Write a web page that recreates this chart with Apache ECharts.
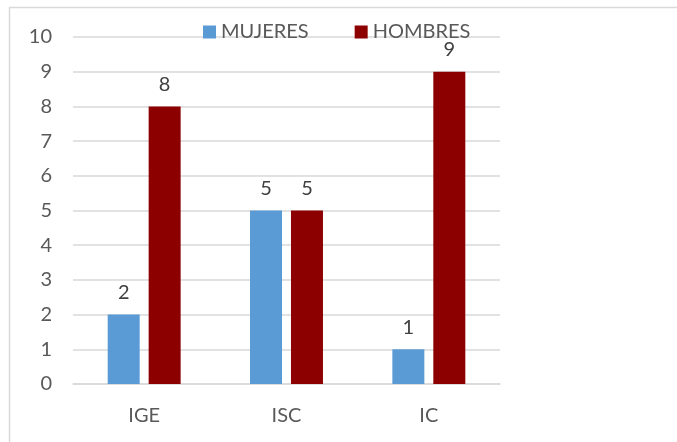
<!DOCTYPE html>
<html>
<head>
<meta charset="utf-8">
<script src="https://cdn.jsdelivr.net/npm/echarts@6/dist/echarts.min.js"></script>
<style>
  html,body{margin:0;padding:0;background:#fff;}
  #main{width:677px;height:442px;}
</style>
</head>
<body>
<div id="main"></div>
<script>
const categories = ['IGE', 'ISC', 'IC'];
const mujeres = [2, 5, 1];
const hombres = [8, 5, 9];
const yTicks = [0, 10, 1]; // min, max, interval

const chart = echarts.init(document.getElementById('main'));
const font = 'Lato, "Open Sans", sans-serif';
let option = {
  animation: false,
  textStyle: { fontFamily: font },
  graphic: [{
    type: 'rect',
    shape: { x: 9.5, y: 7.5, width: 720, height: 500 },
    style: { fill: 'none', stroke: '#d9d9d9', lineWidth: 1.5 }
  }],
  legend: {
    top: 17,
    left: 198,
    itemWidth: 13,
    itemHeight: 13,
    itemGap: 46,
    icon: 'rect',
    textStyle: { color: '#595959', fontSize: 20, fontFamily: font },
    data: ['MUJERES', 'HOMBRES']
  },
  grid: { left: 73, right: 177, top: 37, bottom: 58 },
  xAxis: {
    type: 'category',
    data: categories,
    axisTick: { show: false },
    axisLine: { lineStyle: { color: '#d9d9d9', width: 1.5 } },
    axisLabel: { color: '#595959', fontSize: 20, margin: 22, fontFamily: font }
  },
  yAxis: {
    type: 'value',
    min: yTicks[0],
    max: yTicks[1],
    interval: yTicks[2],
    axisLine: { show: false },
    axisTick: { show: false },
    splitLine: { lineStyle: { color: '#d9d9d9', width: 1.5 } },
    axisLabel: { color: '#595959', fontSize: 20, margin: 21, fontFamily: font }
  },
  series: [
    {
      name: 'MUJERES',
      type: 'bar',
      data: mujeres,
      barWidth: 32,
      barGap: '28%',
      itemStyle: { color: '#5b9bd5' },
      label: { show: true, position: 'top', distance: 12, color: '#404040', fontSize: 20, fontFamily: font }
    },
    {
      name: 'HOMBRES',
      type: 'bar',
      data: hombres,
      barWidth: 32,
      itemStyle: { color: '#8c0000' },
      label: { show: true, position: 'top', distance: 12, color: '#404040', fontSize: 20, fontFamily: font }
    }
  ]
};
chart.setOption(option);
</script>
</body>
</html>
